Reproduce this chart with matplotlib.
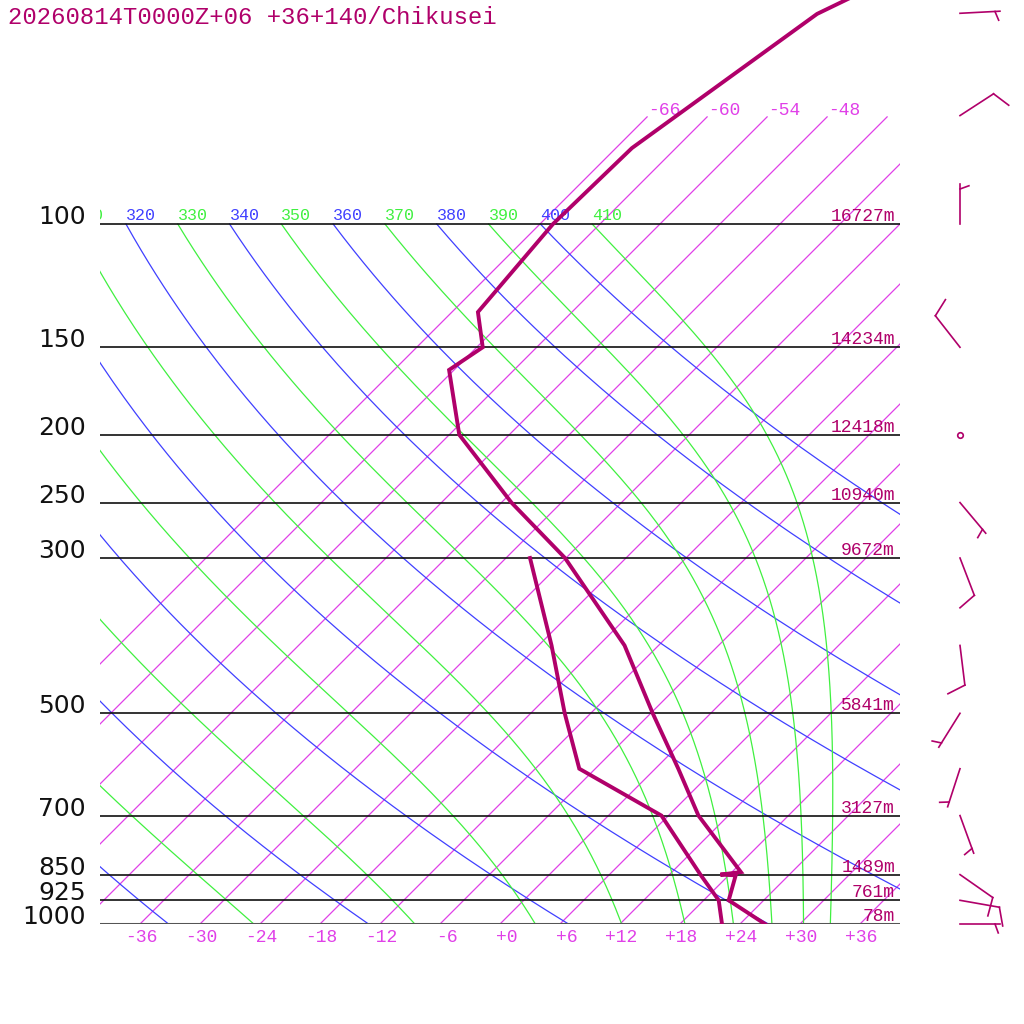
import numpy as np
import matplotlib
matplotlib.use('Agg')
import matplotlib.pyplot as plt
import matplotlib.transforms as mtransforms

title = "20260814T0000Z+06 +36+140/Chikusei"

# temperature profile (hPa, degC)
t_pres = [1000, 925, 852, 850, 843, 700, 600, 500, 400, 300, 250, 200, 161.6, 150, 133.6, 100, 77.9, 50.1, 40]
t_temp = [26.5, 20.5, 18.7, 17.1, 18.9, 9.0, 2.3, -5.8, -15.4, -30.1, -41.0, -53.0, -60.5, -59.4, -63.4, -64.7, -64.4, -59.3, -52.0]

# dewpoint profile
td_pres = [1000, 925, 850, 700, 600, 500, 400, 300]
td_temp = [22.2, 19.5, 15.1, 5.3, -7.6, -14.6, -22.7, -33.6]

# levels with heights
lev_pres = [1000, 925, 850, 700, 500, 300, 250, 200, 150, 100]
lev_hgt = [78, 761, 1489, 3127, 5841, 9672, 10940, 12418, 14234, 16727]

# winds (deg, kt)
wind_pres = [1000, 925, 850, 700, 600, 500, 400, 300, 250, 200, 150, 100, 70, 50]
wind_dir = [90, 100, 125, 160, 198, 212, 173, 159, 140, 0, 322, 0, 57, 87]
wind_spd = [5, 10, 10, 5, 5, 5, 10, 10, 5, 0, 10, 5, 10, 5]

isotherms = np.arange(-66, 37, 6)
dry_thetas = np.arange(200, 401, 20)
moist_thetas = np.arange(250, 411, 20)
tick_temps = np.arange(-36, 37, 6)

SKEW = 30.4          # degC per ln(p) unit -> 45 deg lines
P_TOP = 1000 * np.exp(-924 / 304)
KAPPA = 0.2857
MONO = 'Liberation Mono'
PROF = '#b0006a'
ISO = '#e040e8'
BLUE = '#4040ff'
GREEN = '#40f040'


def skx(t, p):
    return np.asarray(t) + SKEW * np.log(1000.0 / np.asarray(p))


def moist_lapse(theta, pres):
    # pseudo adiabat integrated down from 100 hPa
    Rd, Cp, Lv, eps = 287.04, 1005.7, 2.501e6, 0.622

    def dtdp(T, p):
        tc = T - 273.15
        es = 6.112 * np.exp(17.67 * tc / (tc + 243.5))
        rs = eps * es / (p - es)
        return (Rd * T + Lv * rs) / (p * (Cp + Lv * Lv * rs * eps / (Rd * T * T)))

    T = theta * (pres[0] / 1000.0) ** KAPPA
    out = [T]
    for i in range(1, len(pres)):
        p0, h = pres[i - 1], pres[i] - pres[i - 1]
        k1 = dtdp(T, p0)
        k2 = dtdp(T + h * k1 / 2, p0 + h / 2)
        k3 = dtdp(T + h * k2 / 2, p0 + h / 2)
        k4 = dtdp(T + h * k3, p0 + h)
        T = T + h * (k1 + 2 * k2 + 2 * k3 + k4) / 6
        out.append(T)
    return np.array(out) - 273.15


fig = plt.figure(figsize=(10.24, 10.24), dpi=100)
ax = fig.add_axes([100 / 1024, 100 / 1024, 800 / 1024, 924 / 1024])
ax.set_yscale('log')
ax.set_xlim(-40, 40)
ax.set_ylim(1000, P_TOP)
ax.set_axis_off()

# isotherms
p_iso = np.array([1000, 70.3])
for t in isotherms:
    ax.plot(skx([t, t], p_iso), p_iso, color=ISO, lw=0.9, zorder=1)
    xe = skx(t, p_iso[-1])
    if xe < 35:
        ax.text(xe, p_iso[-1], '%d' % t, color=ISO, fontsize=13, family=MONO,
                ha='left', va='baseline',
                transform=mtransforms.offset_copy(ax.transData, fig, x=1, y=2, units='dots'))

# dry adiabats
p_ad = np.linspace(1000, 100, 200)
lab_tr = mtransforms.offset_copy(ax.transData, fig, x=0, y=4, units='dots')
for th in dry_thetas:
    t = th * (p_ad / 1000) ** KAPPA - 273.15
    ax.plot(skx(t, p_ad), p_ad, color=BLUE, lw=0.9, zorder=1)
    xl = skx(t[-1], 100)
    if xl > -43:
        ax.text(xl, 100, '%d' % th, color=BLUE, fontsize=12, family=MONO,
                ha='left', va='baseline', transform=lab_tr, clip_on=True)

# moist adiabats
p_mo = np.linspace(100, 1000, 400)
for th in moist_thetas:
    t = moist_lapse(th, p_mo)
    ax.plot(skx(t, p_mo), p_mo, color=GREEN, lw=0.9, zorder=1)
    xl = skx(t[0], 100)
    if xl > -43:
        ax.text(xl, 100, '%d' % th, color=GREEN, fontsize=12, family=MONO,
                ha='left', va='baseline', transform=lab_tr, clip_on=True)

# pressure levels
left_tr = mtransforms.offset_copy(ax.get_yaxis_transform(), fig, x=-14, y=0, units='dots')
right_tr = mtransforms.offset_copy(ax.get_yaxis_transform(), fig, x=-5, y=3, units='dots')
for p, h in zip(lev_pres, lev_hgt):
    if p == 1000:
        ax.axhline(p, color='#555555', lw=2.2, zorder=2)
    else:
        ax.axhline(p, color='#111111', lw=1.2, zorder=2)
    fig.text(0, p, '%d' % p, fontsize=18, family='DejaVu Sans', color='#111111',
             ha='right', va='baseline', transform=left_tr)
    fig.text(1, p, '%dm' % h, fontsize=13, family=MONO, color=PROF,
             ha='right', va='baseline', transform=right_tr)

# temperature ticks
tick_tr = mtransforms.offset_copy(ax.get_xaxis_transform(), fig, x=17.5, y=-13, units='dots')
for t in tick_temps:
    fig.text(t, 0, '%+d' % t if t != 0 else '+0', fontsize=13, family=MONO, color=ISO,
             ha='right', va='center', transform=tick_tr)

# profiles
ax.plot(skx(t_temp, t_pres), t_pres, color=PROF, lw=2.8, zorder=5, solid_joinstyle='miter')
ax.plot(skx(td_temp, td_pres), td_pres, color=PROF, lw=2.8, zorder=5, solid_joinstyle='miter')

# wind barbs in pixel space
bx = fig.add_axes([0, 0, 1, 1])
bx.set_xlim(0, 1024)
bx.set_ylim(0, 1024)
bx.set_axis_off()
bx.patch.set_alpha(0)
for p, wd, ws in zip(wind_pres, wind_dir, wind_spd):
    y0 = ax.transData.transform((0, p))[1]
    base = np.array([960.0, y0])
    if ws < 2.5:
        bx.plot(base[0], base[1], marker='o', ms=4, mfc='none', mec=PROF, mew=1.2)
        continue
    r = np.radians(wd)
    d = np.array([np.sin(r), np.cos(r)])
    perp = np.array([d[1], -d[0]])
    a = np.radians(20)
    fd = perp * np.cos(a) + d * np.sin(a)
    tip = base + d * 40
    bx.plot([base[0], tip[0]], [base[1], tip[1]], color=PROF, lw=1.2)
    nfull = int(ws // 10)
    half = (ws % 10) >= 5
    pos = 40 if nfull > 0 else 35
    for i in range(nfull):
        s = base + d * pos
        e = s + fd * 19
        bx.plot([s[0], e[0]], [s[1], e[1]], color=PROF, lw=1.2)
        pos -= 6
    if half:
        s = base + d * pos
        e = s + fd * 9.5
        bx.plot([s[0], e[0]], [s[1], e[1]], color=PROF, lw=1.2)

fig.text(8 / 1024, 1 - 24 / 1024, title, fontsize=17.2, family=MONO, color=PROF,
         ha='left', va='baseline')

fig.savefig('out.png', dpi=100)
